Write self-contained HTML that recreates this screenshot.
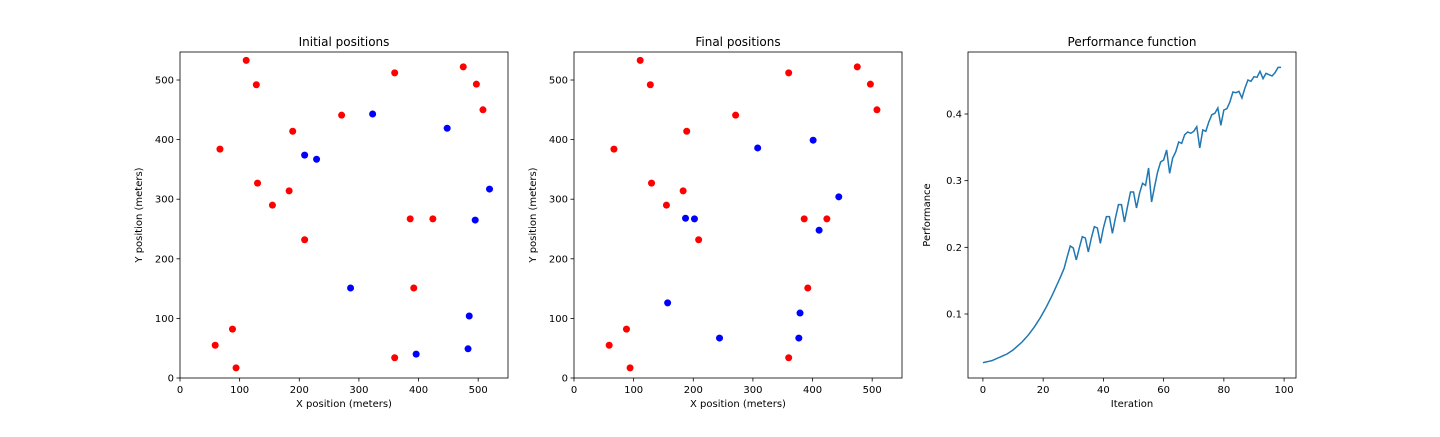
<!DOCTYPE html>
<html><head><meta charset="utf-8"><style>
body{margin:0;background:#fff;}
svg text{font-family:"DejaVu Sans","Liberation Sans",sans-serif;fill:#000;}
</style></head><body>
<svg id="fig" width="1440" height="432" xmlns="http://www.w3.org/2000/svg"></svg>
<script>
const redX=[111,128,67,130,189,155,183,209,271,360,386,424,392,360,475,497,508,88,59,94];
const redY=[533,492,384,327,414,290,314,232,441,512,267,267,151,34,522,493,450,82,55,17];
const blueInitX=[323,209,229,448,519,495,286,485,396,483];
const blueInitY=[443,374,367,419,317,265,151,104,40,49];
const blueFinalX=[308,401,444,411,187,202,157,244,379,377];
const blueFinalY=[386,399,304,248,268,267,126,67,109,67];
const perf=[.027,.028,.029,.030,.032,.034,.036,.038,.040,.043,.046,.050,.054,.058,.063,.068,.074,.080,.087,.094,.102,.110,.119,.128,.138,.148,.158,
.169,.186,.202,.199,.181,.199,.216,.214,.193,.214,.231,.229,.206,.229,.246,.246,.221,.244,.264,.264,.238,.261,.283,.283,.259,.281,.296,.293,.319,.268,.291,.313,.328,.331,.346,.311,.334,.343,.358,.356,.369,.373,.371,.374,.381,.349,.376,.374,.388,.399,.401,.409,.383,.406,.408,.418,.433,.432,.434,.424,.439,.451,.449,.456,.455,.464,.453,.461,.459,.457,.462,.470,.470];
const posTicks=[0,100,200,300,400,500];
const perfXTicks=[0,20,40,60,80,100];
const perfYTicks=[0.1,0.2,0.3,0.4];

const NS="http://www.w3.org/2000/svg";
const fig=document.getElementById('fig');
function mk(tag,attrs,parent){const e=document.createElementNS(NS,tag);for(const k in attrs)e.setAttribute(k,attrs[k]);(parent||fig).appendChild(e);return e;}
const T=52,B=378;
function panel(L,R,x0,x1,y0,y1,title,xl,yl,xt,yt,fmt,name){
  const g=mk('g',{});
  
  
  const sx=v=>L+(v-x0)/(x1-x0)*(R-L), sy=v=>B-(v-y0)/(y1-y0)*(B-T);
  const fr=mk('rect',{x:L,y:T,width:R-L,height:B-T,fill:'none',stroke:'#000','stroke-width':0.8},g);
  
  xt.forEach(v=>{const x=sx(v);mk('line',{x1:x,x2:x,y1:B,y2:B+3.5,stroke:'#000','stroke-width':0.8},g);
    const t=mk('text',{x:x,y:B+15,'font-size':10,'text-anchor':'middle'},g);t.textContent=fmt(v,'x');
    });
  yt.forEach(v=>{const y=sy(v);mk('line',{x1:L,x2:L-3.5,y1:y,y2:y,stroke:'#000','stroke-width':0.8},g);
    const t=mk('text',{x:L-6,y:y+3.5,'font-size':10,'text-anchor':'end'},g);t.textContent=fmt(v,'y');
    });
  let t=mk('text',{x:(L+R)/2,y:46,'font-size':12,'text-anchor':'middle'},g);t.textContent=title;
  
  t=mk('text',{x:(L+R)/2,y:407,'font-size':10,'text-anchor':'middle'},g);t.textContent=xl;
  
  const yx=L-(yt.length&&typeof yt[0]==='number'&&yt[0]<1?38:33);
  t=mk('text',{x:yx,y:(T+B)/2,'font-size':10,'text-anchor':'middle',transform:`rotate(-90 ${yx} ${(T+B)/2})`},g);t.textContent=yl;
  
  return {g,sx,sy};
}
const intFmt=v=>String(v);
function scatter(p,xs,ys,color,name){xs.forEach((x,i)=>{const c=mk('circle',{cx:p.sx(x),cy:p.sy(ys[i]),r:3.5,fill:color},p.g);
  });}
const p1=panel(180,508,0,550,0,547,'Initial positions','X position (meters)','Y position (meters)',posTicks,posTicks,intFmt,'initial-positions-panel');
scatter(p1,redX,redY,'#ff0000','red-point');scatter(p1,blueInitX,blueInitY,'#0000ff','blue-point');
const p2=panel(574,902,0,550,0,547,'Final positions','X position (meters)','Y position (meters)',posTicks,posTicks,intFmt,'final-positions-panel');
scatter(p2,redX,redY,'#ff0000','red-point');scatter(p2,blueFinalX,blueFinalY,'#0000ff','blue-point');
const p3=panel(968,1296,-4.95,103.95,0.004,0.493,'Performance function','Iteration','Performance',perfXTicks,perfYTicks,(v,a)=>a==='y'?v.toFixed(1):String(v),'performance-panel');
const d=perf.map((v,i)=>(i?'L':'M')+p3.sx(i).toFixed(2)+','+p3.sy(v).toFixed(2)).join('');
const ln=mk('path',{d:d,fill:'none',stroke:'#1f77b4','stroke-width':1.5},p3.g);


</script>
</body></html>
